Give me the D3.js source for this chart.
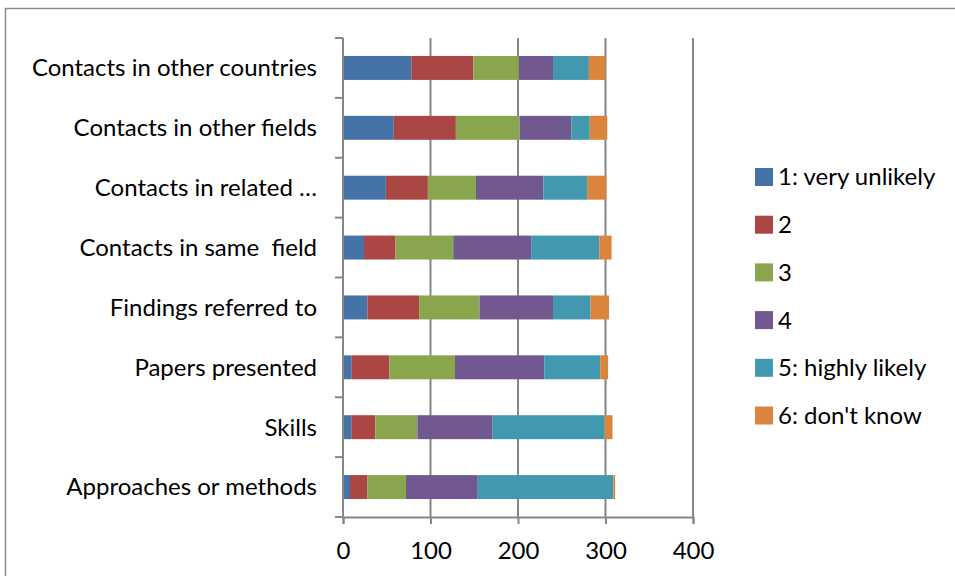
<!DOCTYPE html>
<html>
<head>
<meta charset="utf-8">
<script src="https://cdn.jsdelivr.net/npm/d3@7"></script>
<style>
  body { margin: 0; background: #fff; }
  text { font-family: Lato, "Open Sans", sans-serif; fill: #000; }
</style>
</head>
<body>
<svg id="chart" width="955" height="576"></svg>
<script>
const categories = [
  'Contacts in other countries',
  'Contacts in other fields',
  'Contacts in related …',
  'Contacts in same  field',
  'Findings referred to',
  'Papers presented',
  'Skills',
  'Approaches or methods',
];
const seriesNames = ['1: very unlikely', '2', '3', '4', '5: highly likely', "6: don't know"];
const colors = ['#4572a7', '#aa4643', '#89a54e', '#71588f', '#4198af', '#db843d'];

// one array per series, in category order
const veryUnlikely = [78, 58, 49, 24, 28, 10, 10, 8];
const two          = [71, 71, 48, 36, 59, 43, 27, 20];
const three        = [52, 73, 55, 66, 69, 75, 48, 44];
const four         = [39, 59, 77, 89, 84, 102, 86, 82];
const highlyLikely = [41, 21, 50, 78, 43, 64, 128, 155];
const dontKnow     = [19, 20, 22, 14, 21, 9, 9, 2];
const xTicks = [0, 100, 200, 300, 400];

const seriesValues = [veryUnlikely, two, three, four, highlyLikely, dontKnow];
const rows = categories.map((c, i) => {
  const r = { cat: c };
  seriesNames.forEach((s, j) => { r[s] = seriesValues[j][i]; });
  return r;
});

const fontSize = '24px';
const svg = d3.select('#chart');

// chart frame
svg.append('rect')
  .attr('x', 5.5).attr('y', 8.5)
  .attr('width', 960).attr('height', 580)
  .attr('fill', 'none')
  .attr('stroke', '#8c8c8c')
  .attr('stroke-width', 1.5);

const plotLeft = 343, plotRight = 693, plotTop = 38, plotBottom = 517;

const x = d3.scaleLinear().domain([0, 400]).range([plotLeft, plotRight]);
const y = d3.scaleBand().domain(categories).range([plotTop, plotBottom]).paddingInner(0.6).paddingOuter(0.3);

// gridlines
svg.append('g')
  .selectAll('line')
  .data(xTicks.slice(1))
  .join('line')
  .attr('x1', d => x(d)).attr('x2', d => x(d))
  .attr('y1', plotTop).attr('y2', plotBottom)
  .attr('stroke', '#868686')
  .attr('stroke-width', 2);

// stacked bars
const stack = d3.stack().keys(seriesNames)(rows);
svg.append('g')
  .selectAll('g')
  .data(stack)
  .join('g')
  .attr('fill', (d, i) => colors[i])
  .selectAll('rect')
  .data(d => d)
  .join('rect')
  .attr('x', d => x(d[0]))
  .attr('width', d => x(d[1]) - x(d[0]))
  .attr('y', d => y(d.data.cat))
  .attr('height', y.bandwidth());

// x axis
const xAxis = svg.append('g')
  .attr('transform', `translate(0,${plotBottom})`)
  .call(d3.axisBottom(x).tickValues(xTicks).tickSize(7).tickPadding(18));
xAxis.select('.domain').attr('stroke', '#868686').attr('stroke-width', 2);
xAxis.selectAll('.tick line').attr('stroke', '#868686').attr('stroke-width', 2);
xAxis.selectAll('text').style('font-size', fontSize).style('font-family', 'Lato, sans-serif');

// y axis: line with tick marks between categories
const step = y.step();
const yTickPos = d3.range(categories.length + 1).map(i => plotTop + i * step);
svg.append('line')
  .attr('x1', plotLeft).attr('x2', plotLeft)
  .attr('y1', plotTop).attr('y2', plotBottom)
  .attr('stroke', '#868686').attr('stroke-width', 2);
svg.append('g')
  .selectAll('line')
  .data(yTickPos)
  .join('line')
  .attr('x1', plotLeft - 8).attr('x2', plotLeft)
  .attr('y1', d => d).attr('y2', d => d)
  .attr('stroke', '#868686').attr('stroke-width', 2);

// category labels
svg.append('g')
  .selectAll('text')
  .data(categories)
  .join('text')
  .attr('x', 317)
  .attr('y', d => y(d) + y.bandwidth() / 2)
  .attr('dy', '0.35em')
  .attr('text-anchor', 'end')
  .style('font-size', fontSize)
  .style('white-space', 'pre')
  .text(d => d);

// legend
const legend = svg.append('g')
  .selectAll('g')
  .data(seriesNames)
  .join('g')
  .attr('transform', (d, i) => `translate(755,${177 + i * 47.7})`);
legend.append('rect')
  .attr('x', 0).attr('y', -9)
  .attr('width', 18).attr('height', 18)
  .attr('fill', (d, i) => colors[i]);
legend.append('text')
  .attr('x', 23)
  .attr('dy', '0.35em')
  .style('font-size', fontSize)
  .text(d => d);
</script>
</body>
</html>
